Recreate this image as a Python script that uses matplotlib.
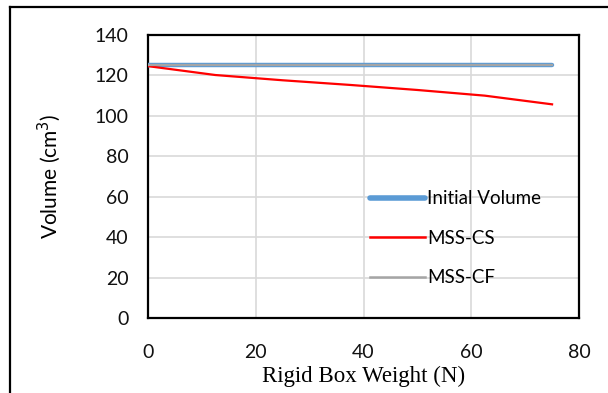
import matplotlib
matplotlib.use("Agg")
import matplotlib.pyplot as plt
from matplotlib.lines import Line2D

weight = [0, 12.5, 25, 37.5, 50, 62.5, 75]
initial_volume = [125, 125, 125, 125, 125, 125, 125]
mss_cs = [124.6, 120.2, 117.6, 115.3, 112.8, 110.0, 105.7]
mss_cf = [125, 125, 125, 125, 125, 125, 125]
xticks = [0, 20, 40, 60, 80]
yticks = [0, 20, 40, 60, 80, 100, 120, 140]

sans = ["Lato", "DejaVu Sans"]

fig = plt.figure(figsize=(6.08, 3.93), dpi=100)
ax = fig.add_axes([148/608, 75/393, (579-148)/608, (318-35)/393])

ax.plot(weight, initial_volume, color="#5B9BD5", lw=3.2, solid_capstyle="round", label="Initial Volume", zorder=3)
ax.plot(weight, mss_cs, color="#FF0000", lw=1.6, label="MSS-CS", zorder=4)
ax.plot(weight, mss_cf, color="#A5A5A5", lw=1.6, label="MSS-CF", zorder=5)

ax.set_xlim(0, 80)
ax.set_ylim(0, 140)
ax.set_xticks(xticks)
ax.set_yticks(yticks)
ax.grid(True, color="#D9D9D9", lw=1.2)
ax.set_axisbelow(True)
for s in ax.spines.values():
    s.set_linewidth(1.6)
    s.set_color("black")
ax.tick_params(axis="x", length=0, pad=19, labelsize=14)
ax.tick_params(axis="y", length=0, pad=14, labelsize=14)
for lab in ax.get_xticklabels() + ax.get_yticklabels():
    lab.set_family(sans)
    lab.set_color("#111111")

ax.set_xlabel("Rigid Box Weight (N)", family=["Liberation Serif"], fontsize=16.5, labelpad=3)
ax.set_ylabel("Volume (cm$^3$)", family=sans, fontsize=15, labelpad=23)

handles = [Line2D([], [], color="#5B9BD5", lw=4, solid_capstyle="round"),
           Line2D([], [], color="#FF0000", lw=1.8),
           Line2D([], [], color="#A5A5A5", lw=1.8)]
leg = ax.legend(handles, ["Initial Volume", "MSS-CS", "MSS-CF"], loc="upper left",
                bbox_to_anchor=(0.515, 0.451), frameon=False, handlelength=2.95,
                handletextpad=0.1, labelspacing=1.2, borderpad=0.0, borderaxespad=0.0,
                prop={"family": sans, "size": 13.5})

# outer frame
fig.add_artist(Line2D([9.5/608, 9.5/608], [0, 1 - 6.5/393], color="black", lw=1.6, transform=fig.transFigure))
fig.add_artist(Line2D([9.5/608, 1], [1 - 6.5/393, 1 - 6.5/393], color="black", lw=1.6, transform=fig.transFigure))

fig.savefig("out.png", dpi=100)
